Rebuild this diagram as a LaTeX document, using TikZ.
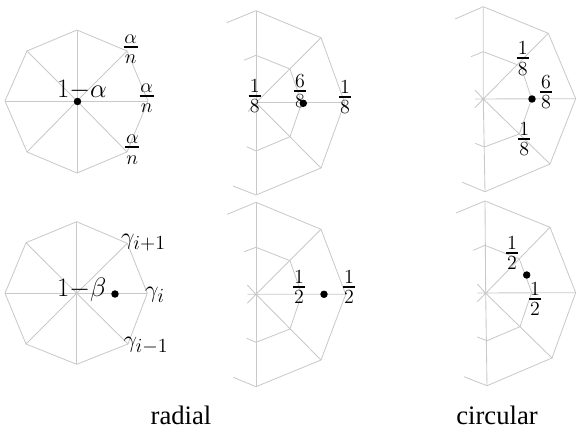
\documentclass[tikz,border=0pt]{standalone}
\usepackage{fix-cm}
\usepackage{fontspec}
\usepackage{amsmath}
\newfontfamily\capfont{Liberation Serif}
\DeclareMathSizes{18}{18}{15}{10}
\tikzset{
  x=0.75pt,y=-0.75pt,
  mesh/.style={draw=black!21,line width=0.62pt,line join=round},
  spoke/.style={draw=black!21,line width=0.65pt},
  dotmark/.style={circle,fill=black,inner sep=0pt,minimum size=5.6pt},
  lab/.style={inner sep=0pt,anchor=base,font=\fontsize{15}{17}\selectfont},
  gam/.style={inner sep=0pt,font=\fontsize{18}{20}\selectfont},
  big/.style={inner sep=0pt,anchor=base,font=\fontsize{20}{22}\selectfont},
  caption/.style={inner sep=0pt,anchor=base,font=\capfont\fontsize{20}{22}\selectfont},
}
% a stacked fraction whose baseline is the middle of its rule
\newcommand{\fr}[3][9pt]{\hbox{\hbox to #1{\hss\raisebox{2.6pt}{$#2$}\hss}\kern-#1\hbox to #1{\hss\raisebox{-12.75pt}{$#3$}\hss}\kern-#1\raisebox{-0.7pt}{\rule{#1}{1.4pt}}}}
\begin{document}
\begin{tikzpicture}
\useasboundingbox (0,0) rectangle (576,431);
% panel 1
\coordinate (c1) at (77,101);
\foreach \n/\p in {a/{77,30},b/{127,51},c/{148,101},d/{127,152},e/{77,173},f/{27,152},g/{5,101},h/{27,51}}{\coordinate (p1\n) at (\p);}
\draw[mesh] (p1a)--(p1b)--(p1c)--(p1d)--(p1e)--(p1f)--(p1g)--(p1h)--cycle;
\foreach \n in {a,b,c,d,e,f,g,h}{\draw[spoke] (c1)--(p1\n);}
\node[dotmark] (d1) at (77.5,101.5) {};
\node[big] (t1) at (82,98) {$1{-}\alpha$};
\node[lab] (l1a) at (130.7,46.7) {\fr[10.5pt]{\alpha}{n}};
\node[lab] (l1b) at (146.7,96) {\fr[10.5pt]{\alpha}{n}};
\node[lab] (l1c) at (132.3,147.3) {\fr[10.5pt]{\alpha}{n}};
% panel 4
\coordinate (c4) at (76.7,293.3);
\foreach \n/\p in {a/{76.7,221.7},b/{127.3,243.3},c/{147.3,293.3},d/{128,344},e/{76.7,364.3},f/{26,344},g/{5,293.3},h/{26,242.7}}{\coordinate (p4\n) at (\p);}
\draw[mesh] (p4a)--(p4b)--(p4c)--(p4d)--(p4e)--(p4f)--(p4g)--(p4h)--cycle;
\foreach \n in {a,b,c,d,e,f,g,h}{\draw[spoke] (c4)--(p4\n);}
\node[dotmark] (d4) at (115,294) {};
\node[big] (t4) at (81.7,296.5) {$1{-}\beta$};
\node[gam] (l4a) at (143.5,242.5) {$\gamma_{i{+}1}$};
\node[gam] (l4b) at (155,295) {$\gamma_i$};
\node[gam] (l4c) at (146,346) {$\gamma_{i{-}1}$};
% panel 2
\coordinate (c2) at (256,102.7);
\foreach \n/\p in {a/{256,10.7},b/{321,37.7},c/{344.7,102.7},d/{321,168},e/{256,195},f/{233,186},g/{226.7,22.7},
 i/{256,55.3},j/{290,69},k/{301.7,103},l/{290,136.7},m/{256,151},n/{246.7,146.7},o/{244,60.3},q/{248,111.7}}{\coordinate (p2\n) at (\p);}
\draw[mesh] (p2g)--(p2a)--(p2b)--(p2c)--(p2d)--(p2e)--(p2f);
\draw[mesh] (p2o)--(p2i)--(p2j)--(p2k)--(p2l)--(p2m)--(p2n);
\draw[spoke] (p2a)--(p2e);
\draw[spoke] (c2)--(p2b) (c2)--(p2d) (p2q)--(c2);
\draw[spoke,line width=0.9pt] (c2)--(p2c);
\node[dotmark] (d2) at (303.3,103.3) {};
\node[lab] (l2a) at (254.7,96) {\fr{1}{8}};
\node[lab] (l2b) at (300,90.7) {\fr{6}{8}};
\node[lab] (l2c) at (345,96.7) {\fr{1}{8}};
% panel 3
\coordinate (c3) at (483.3,99);
\foreach \n/\p in {a/{483.3,6.7},b/{548.3,33.3},c/{575.7,98.7},d/{550,164},e/{485,191.7},f/{462.3,182.3},g/{455,19},
 i/{483.3,51.7},j/{520.7,66},k/{531.7,99},l/{519.3,134},m/{484.3,147},n/{475,143.3},o/{471,56.7},q/{475,90},r/{475,99},s/{475,107.7}}{\coordinate (p3\n) at (\p);}
\draw[mesh] (p3g)--(p3a)--(p3b)--(p3c)--(p3d)--(p3e)--(p3f);
\draw[mesh] (p3o)--(p3i)--(p3j)--(p3k)--(p3l)--(p3m)--(p3n);
\draw[spoke] (p3a)--(c3)--(p3e);
\draw[spoke] (c3)--(p3b) (c3)--(p3d) (p3q)--(c3) (p3s)--(c3) (p3r)--(p3c);
\node[dotmark] (d3) at (532,99) {};
\node[lab] (l3a) at (522.7,58.3) {\fr{1}{8}};
\node[lab] (l3b) at (546,91.7) {\fr{6}{8}};
\node[lab] (l3c) at (524.3,138.7) {\fr{1}{8}};
% panel 5
\coordinate (c5) at (256,294.3);
\foreach \n/\p in {a/{256,202.3},b/{321,229.3},c/{345.7,294.3},d/{321,360},e/{256,386.7},f/{233.3,377.3},g/{227.3,214.3},
 i/{256,247.3},j/{290,260.7},k/{301.7,294.3},l/{290,329},m/{256,342.3},n/{246.7,338.3},o/{244,251.7},q/{247.3,285},r/{247.3,294.3},s/{247.3,303.3}}{\coordinate (p5\n) at (\p);}
\draw[mesh] (p5g)--(p5a)--(p5b)--(p5c)--(p5d)--(p5e)--(p5f);
\draw[mesh] (p5o)--(p5i)--(p5j)--(p5k)--(p5l)--(p5m)--(p5n);
\draw[spoke] (p5a)--(p5e);
\draw[spoke] (c5)--(p5b) (c5)--(p5d) (p5q)--(c5) (p5s)--(c5) (p5r)--(p5c);
\node[dotmark] (d5) at (324,294.3) {};
\node[lab] (l5a) at (299,286.7) {\fr{1}{2}};
\node[lab] (l5b) at (349,286.7) {\fr{1}{2}};
% panel 6
\coordinate (c6) at (485.7,293.3);
\foreach \n/\p in {a/{485,201},b/{550,227.3},c/{575.7,292.7},d/{552,358},e/{487,385.7},f/{464,376.7},g/{456,213},
 i/{485,245.3},j/{519.3,259},k/{531.7,292.3},l/{520,326.7},m/{487,340.7},n/{477.3,337},o/{473.3,250.3},q/{477.3,284},r/{477.3,293},s/{477.3,301.7}}{\coordinate (p6\n) at (\p);}
\draw[mesh] (p6g)--(p6a)--(p6b)--(p6c)--(p6d)--(p6e)--(p6f);
\draw[mesh] (p6o)--(p6i)--(p6j)--(p6k)--(p6l)--(p6m)--(p6n);
\draw[spoke] (p6a)--(c6)--(p6e);
\draw[spoke] (c6)--(p6b) (c6)--(p6d) (p6q)--(c6) (p6s)--(c6) (p6r)--(p6c);
\node[dotmark] (d6) at (526.7,275) {};
\node[lab] (l6a) at (512,252.7) {\fr{1}{2}};
\node[lab] (l6b) at (535,298.7) {\fr{1}{2}};
% captions
\node[caption] (cap1) at (181,425) {radial};
\node[caption] (cap2) at (497,425) {circular};
\end{tikzpicture}
\end{document}
